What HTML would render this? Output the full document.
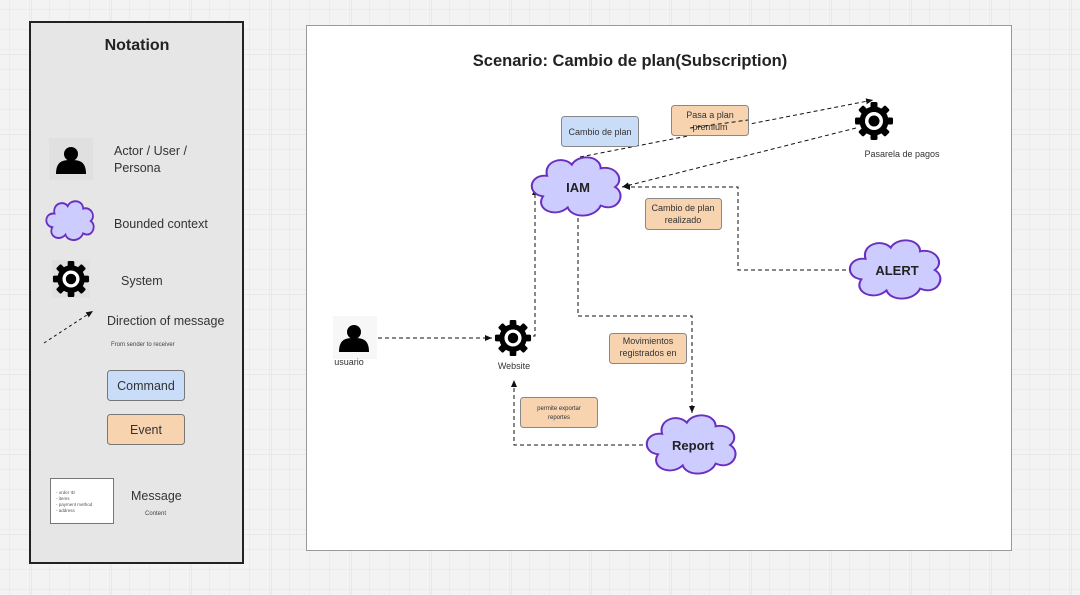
<!DOCTYPE html>
<html><head><meta charset="utf-8"><style>
html,body{margin:0;padding:0;width:1080px;height:595px;overflow:hidden;background:#f3f3f3}
svg{display:block}
text{font-family:"Liberation Sans","DejaVu Sans",sans-serif}
</style></head><body>
<svg width="1080" height="595" viewBox="0 0 1080 595" xmlns="http://www.w3.org/2000/svg">
<defs>
<pattern id="g" width="20" height="20" patternUnits="userSpaceOnUse" x="10" y="10">
<path d="M20 0V20M0 20H20" fill="none" stroke="#e6e6e6" stroke-width="1"/>
</pattern>
<pattern id="G" width="80" height="80" patternUnits="userSpaceOnUse" x="32" y="55">
<path d="M80 0V80M0 80H80" fill="none" stroke="#dedede" stroke-width="1"/>
</pattern>
<marker id="a" markerWidth="8" markerHeight="8" refX="7" refY="4" orient="auto" markerUnits="userSpaceOnUse">
<path d="M0,1 L7,4 L0,7 Z" fill="#111"/>
</marker>
<g id="gear">
<g fill="#000">
<rect x="-3.5" y="-19" width="7" height="38" rx="1.5"/>
<rect x="-3.5" y="-19" width="7" height="38" rx="1.5" transform="rotate(45)"/>
<rect x="-3.5" y="-19" width="7" height="38" rx="1.5" transform="rotate(90)"/>
<rect x="-3.5" y="-19" width="7" height="38" rx="1.5" transform="rotate(135)"/>
<circle r="14.5"/>
</g>
<circle r="9" fill="#fff"/>
<circle r="5.5" fill="#000"/>
</g>
<path id="cloud" d="M-30,-12 C-34,-28 -14,-34 -6,-24 C0,-36 22,-34 22,-20 C36,-24 46,-8 36,0 C48,8 38,28 22,20 C16,34 -6,34 -10,22 C-22,34 -42,24 -34,10 C-50,8 -48,-14 -30,-12 Z"/>
<g id="person" fill="#000">
<circle cx="0" cy="-7" r="7"/>
<path d="M-15,13 C-15,0 -8,-1 0,-1 C8,-1 15,0 15,13 Z"/>
</g>
</defs>
<rect width="1080" height="595" fill="#f3f3f3"/>
<rect width="1080" height="595" fill="url(#g)"/>
<rect width="1080" height="595" fill="url(#G)"/>

<!-- Notation panel -->
<rect x="30" y="22" width="213" height="541" fill="#e6e6e6" stroke="#222" stroke-width="2"/>
<text x="137" y="50" font-size="16" font-weight="bold" text-anchor="middle" fill="#222">Notation</text>
<rect x="49" y="138" width="44" height="42" fill="#e0e0e0"/>
<use href="#person" x="71" y="161"/>
<text x="114" y="155" font-size="12.5" fill="#333">Actor / User /</text>
<text x="114" y="172" font-size="12.5" fill="#333">Persona</text>
<use href="#cloud" transform="translate(71,221) scale(0.55,0.62)" fill="#ccccff" stroke="#6a2fc0" stroke-width="3.2"/>
<text x="114" y="228" font-size="12.5" fill="#333">Bounded context</text>
<rect x="52" y="260" width="38" height="38" fill="#e0e0e0"/>
<use href="#gear" transform="translate(71,279) scale(0.95)"/>
<text x="121" y="285" font-size="12.5" fill="#333">System</text>
<line x1="44" y1="343" x2="93" y2="311" stroke="#111" stroke-dasharray="3,3" marker-end="url(#a)"/>
<text x="107" y="325" font-size="12.5" fill="#333">Direction of message</text>
<text x="111" y="346" font-size="6" fill="#444">From sender to receiver</text>
<rect x="107.5" y="370.5" width="77" height="30" rx="3" fill="#c9dcf8" stroke="#777"/>
<text x="146" y="390" font-size="12.5" text-anchor="middle" fill="#333">Command</text>
<rect x="107.5" y="414.5" width="77" height="30" rx="3" fill="#f7d3b0" stroke="#777"/>
<text x="146" y="434" font-size="12.5" text-anchor="middle" fill="#333">Event</text>
<rect x="50.5" y="478.5" width="63" height="45" fill="#fff" stroke="#777"/>
<text x="56" y="494" font-size="4.5" fill="#555">- order ID</text>
<text x="56" y="500" font-size="4.5" fill="#555">- items</text>
<text x="56" y="506" font-size="4.5" fill="#555">- payment method</text>
<text x="56" y="512" font-size="4.5" fill="#555">- address</text>
<text x="131" y="500" font-size="12.5" fill="#333">Message</text>
<text x="145" y="515" font-size="6" fill="#444">Content</text>

<!-- Main panel -->
<rect x="306.5" y="25.5" width="705" height="525" fill="#fff" stroke="#999"/>
<text x="630" y="66" font-size="16.5" font-weight="bold" text-anchor="middle" fill="#222">Scenario: Cambio de plan(Subscription)</text>

<!-- connectors -->
<g fill="none" stroke="#111" stroke-width="1" stroke-dasharray="4,3">
<line x1="580" y1="157" x2="873" y2="100" marker-end="url(#a)"/>
<line x1="856" y1="128" x2="622" y2="187" marker-end="url(#a)"/>
<polyline points="853,270 738,270 738,187 623,187" marker-end="url(#a)"/>
<polyline points="578,218 578,316 692,316 692,413" marker-end="url(#a)"/>
<polyline points="650,445 514,445 514,380" marker-end="url(#a)"/>
<polyline points="533,336 535,336 535,188" marker-end="url(#a)"/>
<line x1="378" y1="338" x2="492" y2="338" marker-end="url(#a)"/>
</g>

<!-- clouds -->
<g fill="#ccccff" stroke="#6a2fc0" stroke-width="2">
<use href="#cloud" transform="translate(578,187) scale(1.03,0.93)"/>
<use href="#cloud" transform="translate(897,270) scale(1.05,0.93)"/>
<use href="#cloud" transform="translate(693,445) scale(1.03,0.93)"/>
</g>
<text x="578" y="192" font-size="13" font-weight="bold" text-anchor="middle" fill="#222">IAM</text>
<text x="897" y="275" font-size="13" font-weight="bold" text-anchor="middle" fill="#222">ALERT</text>
<text x="693" y="450" font-size="13" font-weight="bold" text-anchor="middle" fill="#222">Report</text>

<!-- gears & person -->
<use href="#gear" x="874" y="121"/>
<text x="902" y="157" font-size="9" text-anchor="middle" fill="#333">Pasarela de pagos</text>
<use href="#gear" transform="translate(513,338) scale(0.95)"/>
<text x="514" y="369" font-size="9" text-anchor="middle" fill="#333">Website</text>
<rect x="333" y="316" width="44" height="43" fill="#f7f7f7"/>
<use href="#person" x="354" y="339"/>
<text x="349" y="365" font-size="9" text-anchor="middle" fill="#333">usuario</text>

<!-- labels -->
<rect x="561.5" y="116.5" width="77" height="30" rx="3" fill="#c9dcf8" stroke="#888"/>
<text x="600" y="135" font-size="9" text-anchor="middle" fill="#333">Cambio de plan</text>
<rect x="671.5" y="105.5" width="77" height="30" rx="3" fill="#f7d3b0" stroke="#888"/>
<text x="710" y="118" font-size="9" text-anchor="middle" fill="#333">Pasa a plan</text>
<text x="710" y="130" font-size="9" text-anchor="middle" fill="#333">premium</text>
<line x1="690" y1="128" x2="748" y2="120" stroke="#111" stroke-dasharray="4,3"/>
<rect x="645.5" y="198.5" width="76" height="31" rx="3" fill="#f7d3b0" stroke="#888"/>
<text x="683" y="211" font-size="9" text-anchor="middle" fill="#333">Cambio de plan</text>
<text x="683" y="223" font-size="9" text-anchor="middle" fill="#333">realizado</text>
<rect x="609.5" y="333.5" width="77" height="30" rx="3" fill="#f7d3b0" stroke="#888"/>
<text x="648" y="344" font-size="9" text-anchor="middle" fill="#333">Movimientos</text>
<text x="648" y="356" font-size="9" text-anchor="middle" fill="#333">registrados en</text>
<rect x="520.5" y="397.5" width="77" height="30" rx="3" fill="#f7d3b0" stroke="#888"/>
<text x="559" y="410" font-size="6" text-anchor="middle" fill="#333">permite exportar</text>
<text x="559" y="419" font-size="6" text-anchor="middle" fill="#333">reportes</text>
</svg>
</body></html>
